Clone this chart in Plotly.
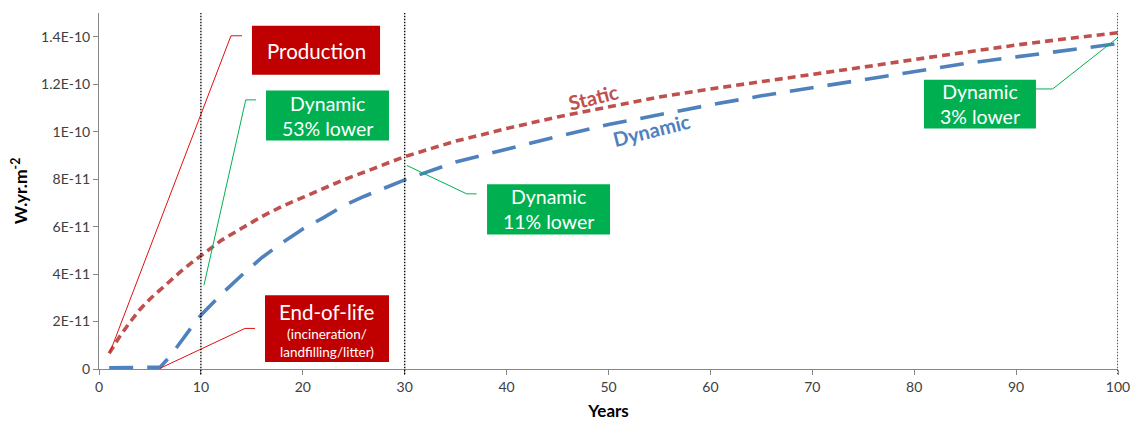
import plotly.graph_objects as go

# ---------------- data (values in units of 1E-11 W.yr.m-2) ----------------
years_static = [1, 2, 3, 4, 5, 6, 7, 8, 9, 10, 12, 14, 16, 18, 20, 22, 24, 26, 28, 30,
                35, 40, 45, 50, 55, 60, 65, 70, 75, 80, 85, 90, 95, 100]
static_vals = [0.66, 1.35, 1.95, 2.5, 2.95, 3.35, 3.75, 4.1, 4.45, 4.78, 5.42, 5.93, 6.43,
               6.86, 7.24, 7.62, 7.97, 8.29, 8.64, 8.95, 9.6, 10.13, 10.62, 11.05, 11.46,
               11.8, 12.1, 12.42, 12.72, 13.04, 13.36, 13.65, 13.92, 14.17]

years_dynamic = [1, 2, 3, 4, 5, 6, 7, 8, 9, 10, 12, 14, 16, 18, 20, 22, 24, 26, 28, 30,
                 35, 40, 45, 50, 55, 60, 65, 70, 75, 80, 85, 90, 95, 100]
dynamic_vals = [0.05, 0.05, 0.06, 0.06, 0.07, 0.08, 0.55, 1.15, 1.71, 2.27, 3.15, 3.95, 4.7,
                5.33, 5.9, 6.37, 6.88, 7.27, 7.63, 7.97, 8.72, 9.27, 9.8, 10.3, 10.72,
                11.13, 11.51, 11.85, 12.16, 12.52, 12.87, 13.15, 13.44, 13.71]

marker_years = [10, 30, 100]

x_tickvals = [0, 10, 20, 30, 40, 50, 60, 70, 80, 90, 100]
y_tickvals = [0, 2, 4, 6, 8, 10, 12, 14]
y_ticktext = ["0", "2E-11", "4E-11", "6E-11", "8E-11", "1E-10", "1.2E-10", "1.4E-10"]

# ---------------- styles / layout config ----------------
RED = "#C0504D"
BLUE = "#4F81BD"
BOX_RED = "#C00000"
LEAD_RED = "#E01010"
BOX_GREEN = "#00B050"
FONT = "Lato"

fig = go.Figure()

fig.add_trace(go.Scatter(x=years_static, y=static_vals, mode="lines",
                         line=dict(color=RED, width=3.6, dash="8px,5px"),
                         hoverinfo="skip", showlegend=False))
fig.add_trace(go.Scatter(x=years_dynamic, y=dynamic_vals, mode="lines",
                         line=dict(color=BLUE, width=3.6, dash="24px,14px"),
                         hoverinfo="skip", showlegend=False))

# callout leader lines (data coords)
leaders = [
    (LEAD_RED, [1.08, 12.95, 14.03], [0.71, 14.04, 14.04]),
    (BOX_GREEN, [10.3, 14.4, 15.41], [3.53, 11.34, 11.34]),
    (LEAD_RED, [5.99, 14.33, 15.31], [0.03, 1.71, 1.71]),
    (BOX_GREEN, [30.2, 36.08, 37.06], [8.58, 7.38, 7.38]),
    (BOX_GREEN, [91.95, 93.59, 100.0], [11.8, 11.8, 13.97]),
]
for col, lx, ly in leaders:
    fig.add_trace(go.Scatter(x=lx, y=ly, mode="lines", line=dict(color=col, width=1),
                             hoverinfo="skip", showlegend=False, cliponaxis=False))

shapes = []
for yr in marker_years:
    shapes.append(dict(type="line", xref="x", yref="paper", x0=yr, x1=yr, y0=-0.015, y1=1,
                       line=dict(color="#000000", width=1.3, dash="1.5px,1.5px")))

boxes = [
    (BOX_RED, 15.01, 27.58, 12.40, 14.46),
    (BOX_GREEN, 16.39, 28.46, 9.63, 11.73),
    (BOX_RED, 16.29, 28.46, 0.29, 3.11),
    (BOX_GREEN, 38.08, 50.15, 5.67, 7.78),
    (BOX_GREEN, 80.96, 91.95, 10.13, 12.19),
]
for col, x0, x1, y0, y1 in boxes:
    shapes.append(dict(type="rect", xref="x", yref="y", x0=x0, x1=x1, y0=y0, y1=y1,
                       fillcolor=col, line=dict(width=0), layer="above"))

annotations = []
def txt(x, y, text, size, color="white", angle=0):
    annotations.append(dict(x=x, y=y, xref="x", yref="y", text=text, showarrow=False,
                            font=dict(family=FONT, size=size, color=color),
                            textangle=angle, xanchor="center", yanchor="middle"))

txt(21.3, 13.41, "Production", 20.5)
txt(22.42, 10.68, "Dynamic<br>53% lower", 19.5)
txt(22.37, 2.42, "End-of-life", 20.5)
txt(22.37, 1.09, "(incineration/<br>landfilling/litter)", 13.5)
txt(44.11, 6.73, "Dynamic<br>11% lower", 19.5)
txt(86.46, 11.16, "Dynamic<br>3% lower", 19.5)
txt(48.5, 11.47, "<b>Static</b>", 20, RED, -14)
txt(54.2, 10.09, "<b>Dynamic</b>", 20, BLUE, -14)

fig.update_layout(
    width=1133, height=422, autosize=False,
    margin=dict(l=99, r=15, t=13, b=53),
    paper_bgcolor="white", plot_bgcolor="white",
    font=dict(family=FONT, size=14, color="#404040"),
    shapes=shapes, annotations=annotations,
    xaxis=dict(range=[0, 100], tickvals=x_tickvals, showgrid=False, zeroline=False,
               showline=True, linecolor="#868686", linewidth=1, automargin=False,
               ticks="outside", ticklen=5, tickcolor="#868686",
               tickfont=dict(family=FONT, size=14, color="#404040"),
               title=dict(text="<b>Years</b>", font=dict(family=FONT, size=17, color="#000000"),
                          standoff=11)),
    yaxis=dict(range=[0, 15], tickvals=y_tickvals, ticktext=y_ticktext, showgrid=False,
               zeroline=False, showline=True, linecolor="#868686", linewidth=1,
               automargin=False,
               ticks="outside", ticklen=5, tickcolor="#868686",
               tickfont=dict(family=FONT, size=14, color="#404040"),
               title=dict(text="<b>W.yr.m<sup>-2</sup></b>",
                          font=dict(family=FONT, size=17.5, color="#000000"), standoff=8)),
)

fig.write_html("out.html", config={"displayModeBar": False},
               post_script="document.body.style.margin='0';")
